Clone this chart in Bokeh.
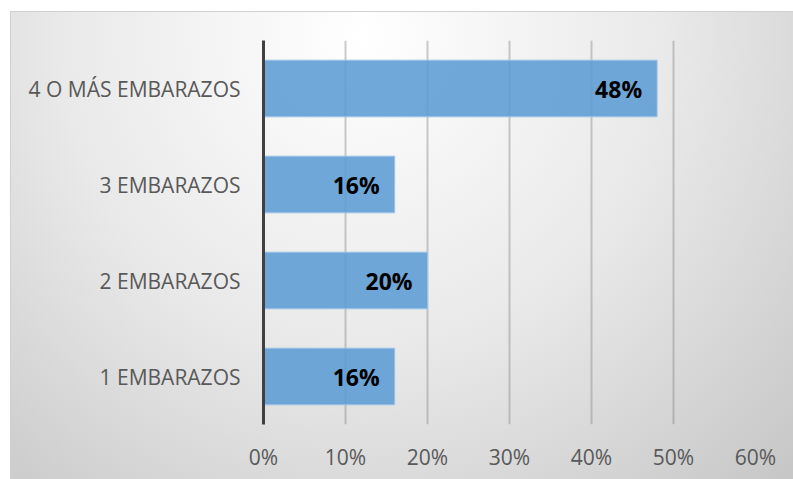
from bokeh.plotting import figure
from bokeh.models import ColumnDataSource, NumeralTickFormatter, FixedTicker, Range1d
from bokeh.core.properties import value
from bokeh.embed import file_html
from bokeh.resources import INLINE

categories = ["1 EMBARAZOS", "2 EMBARAZOS", "3 EMBARAZOS", "4 O MÁS EMBARAZOS"]
values = [0.16, 0.20, 0.16, 0.48]
labels = ["16%", "20%", "16%", "48%"]
x_ticks = [0, 0.1, 0.2, 0.3, 0.4, 0.5, 0.6]

src = ColumnDataSource(dict(cat=categories, val=values, lab=labels))

p = figure(width=783, height=468, y_range=categories, x_range=Range1d(0, 0.6),
           output_backend="svg", toolbar_location=None,
           min_border_left=252, min_border_right=39, min_border_top=28, min_border_bottom=56)
p.styles = {
    "margin-left": "10px", "margin-top": "11px",
    "border-top": "1px solid #d0d0d0", "border-left": "1px solid #d0d0d0",
    "background": "radial-gradient(ellipse farthest-corner at 45% 5%, #ffffff 0%, #e9e9e9 50%, #c6c6c6 100%)",
}
p.background_fill_alpha = 0
p.border_fill_alpha = 0
p.outline_line_color = None

p.hbar(y="cat", right="val", left=0, height=0.59, source=src,
       fill_color="#5b9bd5", fill_alpha=0.87, line_color="#9dc3e6", line_width=1)

p.text(x="val", y="cat", text="lab", source=src, text_align="right", text_baseline="middle",
       x_offset=-15, text_font=value("Open Sans"), text_font_style="bold", text_font_size="23px",
       text_color="#000000")

p.xaxis.ticker = FixedTicker(ticks=x_ticks)
p.xaxis.formatter = NumeralTickFormatter(format="0%")
p.xaxis.axis_line_color = None
p.xaxis.major_tick_line_color = None
p.xaxis.minor_tick_line_color = None
p.xaxis.major_label_standoff = 12
p.xaxis.major_label_text_font = "Open Sans"
p.xaxis.major_label_text_font_size = "21px"
p.xaxis.major_label_text_color = "#595959"

p.yaxis.axis_line_color = "#404040"
p.yaxis.axis_line_width = 3
p.yaxis.major_tick_line_color = None
p.yaxis.minor_tick_line_color = None
p.yaxis.major_label_standoff = 17
p.yaxis.major_label_text_font = "Open Sans"
p.yaxis.major_label_text_font_size = "21px"
p.yaxis.major_label_text_color = "#595959"

p.ygrid.grid_line_color = None
p.xgrid.ticker = FixedTicker(ticks=x_ticks)
p.xgrid.grid_line_color = "#8c8c8c"
p.xgrid.grid_line_alpha = 0.45
p.xgrid.grid_line_width = 2

open("out.html", "w").write(file_html(p, INLINE))
